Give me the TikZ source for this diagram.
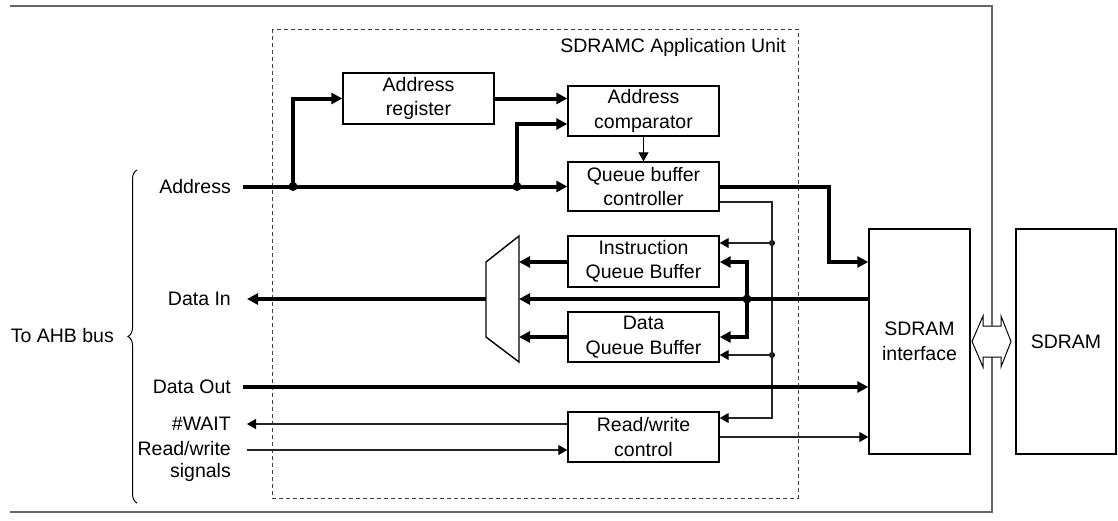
\documentclass[tikz,border=0pt]{standalone}
\usepackage{fontspec}
\setmainfont{Liberation Sans}
\usetikzlibrary{arrows.meta,calc,decorations.pathreplacing}
\newcommand\myfs{\fontsize{19.5}{24.5}\selectfont}
\newcommand\myfss{\fontsize{19.5}{22}\selectfont}
\begin{document}
\begin{tikzpicture}[x=1pt,y=-1pt,
  box/.style={draw,line width=1.4pt,minimum width=151pt,minimum height=50pt,align=center,inner sep=0pt,font=\myfs},
  lbl/.style={font=\myfs,align=right,inner sep=0pt,anchor=east},
  bus/.style={line width=4pt},
  busarrow/.style={bus,-{Triangle[length=11pt,width=11pt]}},
  sig/.style={line width=1.1pt,draw=black!85},
  sigarrow/.style={sig,-{Triangle[length=9pt,width=10pt,color=black]}},
  bigdot/.style={circle,fill,inner sep=0pt,minimum size=9pt},
  smalldot/.style={circle,fill,inner sep=0pt,minimum size=6pt},
  frame/.style={draw=black!60,line width=1.2pt},
  unit/.style={draw=black!75,line width=1pt,dash pattern=on 4pt off 3pt}
]
\useasboundingbox (0,0) rectangle (1118,520);

% outer frame
\draw[frame] (10,6) -- (992,6) -- (992,512) -- (10,512);
% dashed unit
\draw[unit] (272,29) rectangle (798,498);
\node[font=\myfs,anchor=east,inner sep=0pt] (title) at (786,47) {SDRAMC Application Unit};

% boxes
\node[box,minimum height=51pt] (areg) at (418.5,98.5) {Address\\register};
\node[box] (acmp) at (643.5,111) {Address\\comparator};
\node[box,minimum height=49pt] (qbc) at (643.5,186.5) {Queue buffer\\controller};
\node[box,minimum height=51pt] (iqb) at (643.5,261.5) {Instruction\\Queue Buffer};
\node[box] (dqb) at (643.5,337) {Data\\Queue Buffer};
\node[box] (rwc) at (643.5,437) {Read/write\\control};
\node[box,minimum width=101pt,minimum height=225pt] (sif) at (919.5,341.5) {SDRAM\\interface};
\node[box,minimum width=100pt,minimum height=225pt] (sdram) at (1066,341.5) {SDRAM};

% mux
\coordinate (m1) at (486,262);
\coordinate (m2) at (519,236);
\coordinate (m3) at (519,362);
\coordinate (m4) at (486,337);
\draw[line width=1.4pt,line join=miter] (m1) -- (m2) -- (m3) -- (m4) -- cycle;
\coordinate (mr) at (519,299);
\coordinate (ml) at (486,299);

% double arrow
\draw[line width=1pt,fill=white] (972,341.5) -- (983,316) -- (983,326) -- (1001,326) -- (1001,316)
  -- (1011,341.5) -- (1001,367) -- (1001,357) -- (983,357) -- (983,367) -- cycle;

% left labels
\node[lbl] (laddr) at (231,186.5) {Address};
\node[lbl] (ldin) at (231,299) {Data In};
\node[lbl] (ldout) at (231,387) {Data Out};
\node[lbl] (lwait) at (231,424) {\#WAIT};
\node[lbl,font=\myfss] (lrw) at (231,461) {Read/write\\signals};
\node[lbl] (lahb) at (114,336) {To AHB bus};
\coordinate (bt) at (137,170);
\coordinate (bb) at (137,503);
\draw[line width=1pt,decorate,decoration={brace,amplitude=9pt}] (bb) -- (bt);

% address paths
\coordinate (as) at (243,186.5);
\node[bigdot] (j1) at (293,186.5) {};
\node[bigdot] (j2) at (517,186.5) {};
\draw[busarrow] (as) -- (qbc.west);
\draw[busarrow] (j1.center) |- (areg.west);
\draw[busarrow] (areg.east) -- (areg.east -| acmp.west);
\draw[busarrow] (j2.center) |- (acmp.west |- 0,124);
\draw[sigarrow,draw=black] (acmp.south) -- (qbc.north);

% controller to SDRAM interface
\coordinate (qc) at (829,186.5);
\draw[busarrow] (qbc.east) -- (qc) |- (sif.west |- 0,262);

% control lines
\coordinate (c1) at (772,202);
\coordinate (c2) at (772,418);
\node[smalldot] (d1) at (772,243) {};
\node[smalldot] (d2) at (772,355) {};
\draw[sigarrow] (qbc.east |- c1) -- (c1) -- (c2) -- (rwc.east |- c2);
\draw[sigarrow] (d1.center) -- (iqb.east |- d1);
\draw[sigarrow] (d2.center) -- (dqb.east |- d2);

% data in
\node[bigdot] (j3) at (747,299) {};
\draw[busarrow] (sif.west |- 0,299) -- (mr);
\draw[busarrow] (ml) -- (247,299) coordinate (dinend);
\draw[busarrow] (j3.center) |- (iqb.east |- 0,262);
\draw[busarrow] (j3.center) |- (dqb.east |- 0,337);
\draw[busarrow] (iqb.west |- 0,262) -- (mr |- 0,262);
\draw[busarrow] (dqb.west |- 0,337) -- (mr |- 0,337);

% data out
\draw[busarrow] (243,387) coordinate (doutstart) -- (sif.west |- 0,387);

% wait and read/write
\draw[sigarrow] (rwc.west |- 0,424) -- (247,424) coordinate (waitend);
\draw[sigarrow] (247,450) coordinate (rwstart) -- (rwc.west |- 0,450);
\draw[sigarrow] (rwc.east |- 0,437) -- (sif.west |- 0,437);
\end{tikzpicture}
\end{document}
